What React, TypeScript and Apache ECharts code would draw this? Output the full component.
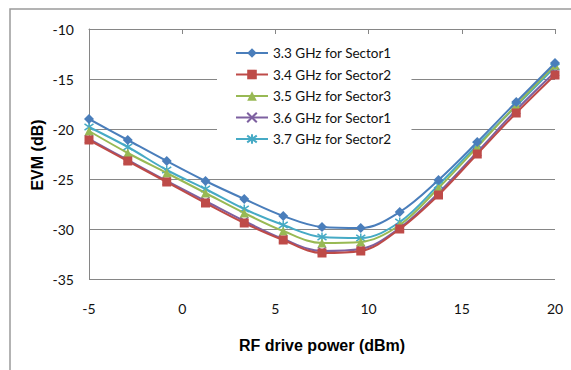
import React, { useEffect, useRef } from "react";
import * as echarts from "echarts";

const xValues = [-5, -2.92, -0.83, 1.25, 3.33, 5.42, 7.5, 9.58, 11.67, 13.75, 15.83, 17.92, 20];
const seriesNames = [
  "3.3 GHz for Sector1",
  "3.4 GHz for Sector2",
  "3.5 GHz for Sector3",
  "3.6 GHz for Sector1",
  "3.7 GHz for Sector2",
];
const s33 = [-19.0, -21.1, -23.2, -25.2, -27.0, -28.7, -29.8, -29.9, -28.3, -25.1, -21.3, -17.3, -13.4];
const s34 = [-21.1, -23.2, -25.3, -27.4, -29.4, -31.1, -32.4, -32.2, -30.0, -26.6, -22.5, -18.4, -14.6];
const s35 = [-20.2, -22.4, -24.4, -26.4, -28.4, -30.2, -31.4, -31.3, -29.6, -25.9, -21.8, -17.6, -13.6];
const s36 = [-21.0, -23.1, -25.2, -27.2, -29.2, -31.0, -32.2, -32.0, -29.9, -26.4, -22.3, -18.1, -14.3];
const s37 = [-19.8, -21.8, -24.1, -26.0, -28.0, -29.6, -30.8, -30.9, -29.3, -25.6, -21.6, -17.7, -13.8];
const xTicks = { min: -5, max: 20, interval: 5 };
const yTicks = { min: -35, max: -10, interval: 5 };

const colors = ["#4A7EBB", "#BE4B48", "#98B954", "#7D60A0", "#46AAC5"];
const symbols = [
  "diamond",
  "rect",
  "triangle",
  "path://M0,0L10,10M10,0L0,10",
  "path://M0,0L10,10M10,0L0,10M5,-2L5,12",
];
const symbolSizes = [10, 9, 9, 8, 9];

export default function App() {
  const ref = useRef<HTMLDivElement>(null);
  useEffect(() => {
    if (!ref.current) return;
    const chart = echarts.init(ref.current, undefined, { renderer: "svg" });
    const allData = [s33, s34, s35, s36, s37];
    const series = allData.map((vals, i) => ({
      name: seriesNames[i],
      type: "line",
      xAxisIndex: 0,
      smooth: 0.35,
      data: vals.map((v, j) => [xValues[j], v]),
      symbol: symbols[i],
      symbolSize: symbolSizes[i],
      lineStyle: { color: colors[i], width: 2 },
      itemStyle: {
        color: colors[i],
        borderColor: colors[i],
        borderWidth: i >= 3 ? 1.5 : 0,
      },
      z: 10 - i,
    }));
    chart.setOption({
      animation: false,
      backgroundColor: "#ffffff",
      grid: { left: 89, right: 16, top: 29, bottom: 91 },
      xAxis: [
        {
          type: "value",
          position: "top",
          ...xTicks,
          axisLine: { show: true, onZero: false, lineStyle: { color: "#868686", width: 1 } },
          axisTick: { show: true, inside: true, length: 5, lineStyle: { color: "#868686" } },
          axisLabel: { show: false },
          splitLine: { show: false },
        },
        {
          type: "value",
          position: "bottom",
          ...xTicks,
          axisLine: { show: false, onZero: false },
          axisTick: { show: false },
          axisLabel: {
            show: true,
            margin: 22,
            fontFamily: "Lato",
            fontSize: 14,
            color: "#111",
          },
          splitLine: { show: false },
        },
      ],
      yAxis: {
        type: "value",
        ...yTicks,
        axisLine: { show: true, onZero: false, lineStyle: { color: "#868686", width: 1 } },
        axisTick: { show: false },
        axisLabel: {
          margin: 15,
          fontFamily: "Lato",
          fontSize: 14,
          color: "#111",
        },
        splitLine: { show: true, lineStyle: { color: "#868686", width: 1 } },
      },
      legend: {
        orient: "vertical",
        left: 217,
        top: 42,
        width: 194,
        padding: [4, 20, 4, 18],
        backgroundColor: "#ffffff",
        itemWidth: 32,
        itemHeight: 12,
        itemGap: 7.5,
        textStyle: { fontFamily: "Lato", fontSize: 13.5, color: "#111" },
        data: seriesNames,
        z: 20,
      },
      graphic: [
        {
          type: "rect",
          shape: { x: 10, y: 9, width: 600, height: 420 },
          style: { fill: "none", stroke: "#9a9a9a", lineWidth: 1.5 },
          silent: true,
        },
        {
          type: "text",
          x: 322,
          y: 345,
          style: {
            text: "RF drive power (dBm)",
            fontFamily: "Liberation Sans",
            fontWeight: "bold",
            fontSize: 16,
            fill: "#000",
            textAlign: "center",
            textVerticalAlign: "middle",
          },
        },
        {
          type: "text",
          x: 37,
          y: 155,
          rotation: Math.PI / 2,
          style: {
            text: "EVM (dB)",
            fontFamily: "Liberation Sans",
            fontWeight: "bold",
            fontSize: 16,
            fill: "#000",
            textAlign: "center",
            textVerticalAlign: "middle",
          },
        },
      ],
      series,
    });
    return () => chart.dispose();
  }, []);
  return (
    <div
      ref={ref}
      style={{ position: "fixed", left: 0, top: 0, width: 571, height: 370 }}
    />
  );
}
